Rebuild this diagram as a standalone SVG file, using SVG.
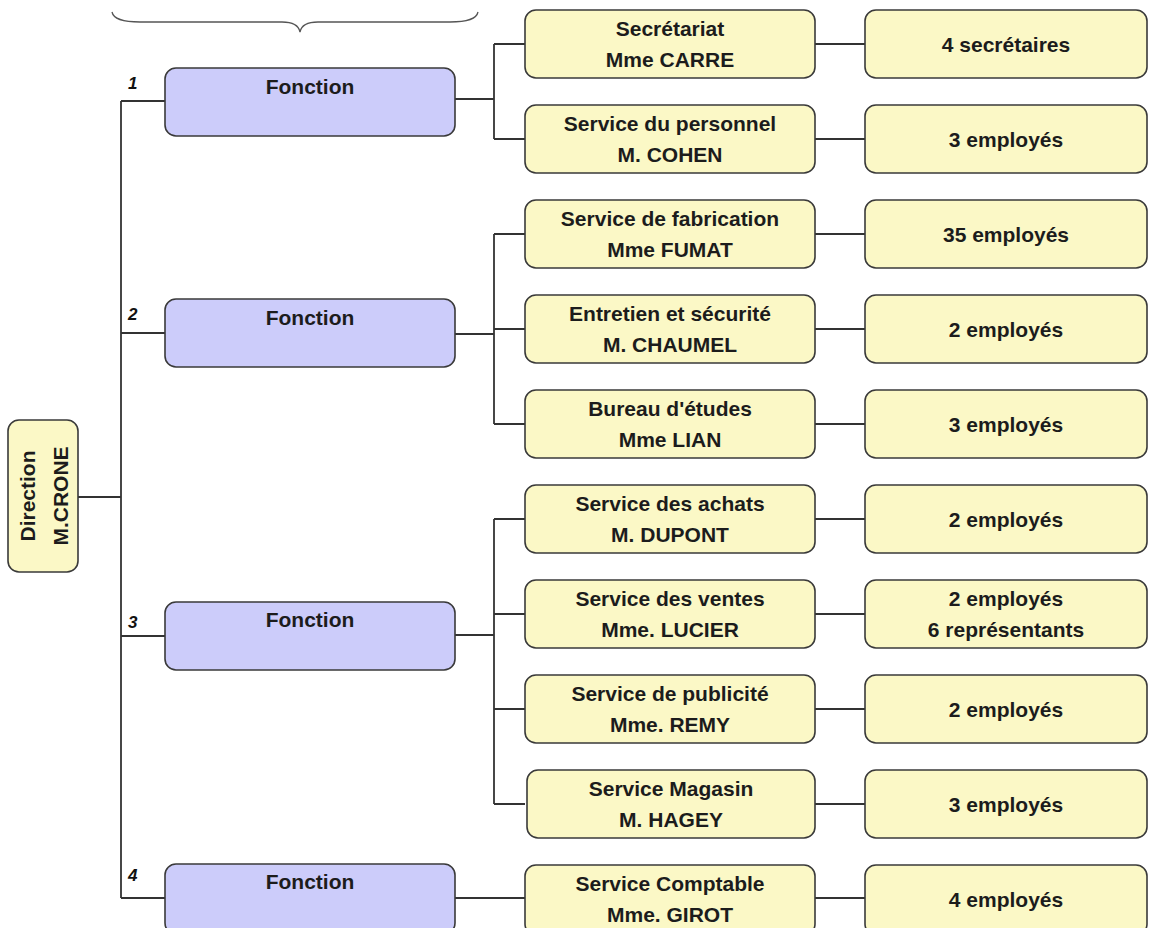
<svg xmlns="http://www.w3.org/2000/svg" width="1149" height="928" viewBox="0 0 1149 928">
<style>
.fn{fill:#ccccfa;stroke:#3a3a3a;stroke-width:1.6}
.sv{fill:#fbf8c6;stroke:#3a3a3a;stroke-width:1.6}
.t{font-family:"Liberation Sans",Arial,sans-serif;font-weight:bold;font-size:21px;fill:#1c1c1c;text-anchor:middle}
.n{font-family:"Liberation Sans",Arial,sans-serif;font-weight:bold;font-style:italic;font-size:17px;fill:#111}
.ln{fill:none;stroke:#333;stroke-width:1.8}
.br{fill:none;stroke:#555;stroke-width:1.3}
</style>
<rect width="1149" height="928" fill="#ffffff"/>
<path class="br" d="M112,12 Q114,22 140,22 L282,22 Q298,22 300,32 Q302,22 318,22 L450,22 Q476,22 478,12"/>
<g id="connectors">
<path class="ln" d="M121,101 V898 M121,101 H165 M121,333 H165 M121,636 H165 M121,898 H165 M78,497 H121"/>
<path class="ln" d="M455,99 H494 M494,44 V139 M494,44 H525 M494,139 H525"/>
<path class="ln" d="M455,334 H494 M494,234 V424 M494,234 H525 M494,329 H525 M494,424 H525"/>
<path class="ln" d="M455,635 H494 M494,519 V804 M494,519 H525 M494,614 H525 M494,709 H525 M494,804 H525"/>
<path class="ln" d="M455,898 H525"/>
<path class="ln" d="M815,44 H865 M815,139 H865 M815,234 H865 M815,329 H865 M815,424 H865 M815,519 H865 M815,614 H865 M815,709 H865 M815,804 H865 M815,898 H865"/>
</g>
<g id="direction">
<rect class="sv" x="8" y="420" width="70" height="152" rx="11"/>
<text class="t" transform="translate(35,496) rotate(-90)">Direction</text>
<text class="t" transform="translate(68,496) rotate(-90)">M.CRONE</text>
</g>
<g id="fonction1"><text class="n" x="128" y="89">1</text><rect class="fn" x="165" y="68" width="290" height="68" rx="11"/><text class="t" x="310" y="94">Fonction</text></g>
<g id="fonction2"><text class="n" x="128" y="320">2</text><rect class="fn" x="165" y="299" width="290" height="68" rx="11"/><text class="t" x="310" y="325">Fonction</text></g>
<g id="fonction3"><text class="n" x="128" y="628">3</text><rect class="fn" x="165" y="602" width="290" height="68" rx="11"/><text class="t" x="310" y="627">Fonction</text></g>
<g id="fonction4"><text class="n" x="128" y="881">4</text><rect class="fn" x="165" y="864" width="290" height="70" rx="11"/><text class="t" x="310" y="889">Fonction</text></g>

<g id="s1"><rect class="sv" x="525" y="10" width="290" height="68" rx="11"/><text class="t" x="670" y="36">Secrétariat</text><text class="t" x="670" y="67">Mme CARRE</text></g>
<g id="s2"><rect class="sv" x="525" y="105" width="290" height="68" rx="11"/><text class="t" x="670" y="131">Service du personnel</text><text class="t" x="670" y="162">M. COHEN</text></g>
<g id="s3"><rect class="sv" x="525" y="200" width="290" height="68" rx="11"/><text class="t" x="670" y="226">Service de fabrication</text><text class="t" x="670" y="257">Mme FUMAT</text></g>
<g id="s4"><rect class="sv" x="525" y="295" width="290" height="68" rx="11"/><text class="t" x="670" y="321">Entretien et sécurité</text><text class="t" x="670" y="352">M. CHAUMEL</text></g>
<g id="s5"><rect class="sv" x="525" y="390" width="290" height="68" rx="11"/><text class="t" x="670" y="416">Bureau d'études</text><text class="t" x="670" y="447">Mme LIAN</text></g>
<g id="s6"><rect class="sv" x="525" y="485" width="290" height="68" rx="11"/><text class="t" x="670" y="511">Service des achats</text><text class="t" x="670" y="542">M. DUPONT</text></g>
<g id="s7"><rect class="sv" x="525" y="580" width="290" height="68" rx="11"/><text class="t" x="670" y="606">Service des ventes</text><text class="t" x="670" y="637">Mme. LUCIER</text></g>
<g id="s8"><rect class="sv" x="525" y="675" width="290" height="68" rx="11"/><text class="t" x="670" y="701">Service de publicité</text><text class="t" x="670" y="732">Mme. REMY</text></g>
<g id="s9"><rect class="sv" x="527" y="770" width="288" height="68" rx="11"/><text class="t" x="671" y="796">Service Magasin</text><text class="t" x="671" y="827">M. HAGEY</text></g>
<g id="s10"><rect class="sv" x="525" y="865" width="290" height="70" rx="11"/><text class="t" x="670" y="891">Service Comptable</text><text class="t" x="670" y="922">Mme. GIROT</text></g>

<g id="r1"><rect class="sv" x="865" y="10" width="282" height="68" rx="11"/><text class="t" x="1006" y="52">4 secrétaires</text></g>
<g id="r2"><rect class="sv" x="865" y="105" width="282" height="68" rx="11"/><text class="t" x="1006" y="147">3 employés</text></g>
<g id="r3"><rect class="sv" x="865" y="200" width="282" height="68" rx="11"/><text class="t" x="1006" y="242">35 employés</text></g>
<g id="r4"><rect class="sv" x="865" y="295" width="282" height="68" rx="11"/><text class="t" x="1006" y="337">2 employés</text></g>
<g id="r5"><rect class="sv" x="865" y="390" width="282" height="68" rx="11"/><text class="t" x="1006" y="432">3 employés</text></g>
<g id="r6"><rect class="sv" x="865" y="485" width="282" height="68" rx="11"/><text class="t" x="1006" y="527">2 employés</text></g>
<g id="r7"><rect class="sv" x="865" y="580" width="282" height="68" rx="11"/><text class="t" x="1006" y="606">2 employés</text><text class="t" x="1006" y="637">6 représentants</text></g>
<g id="r8"><rect class="sv" x="865" y="675" width="282" height="68" rx="11"/><text class="t" x="1006" y="717">2 employés</text></g>
<g id="r9"><rect class="sv" x="865" y="770" width="282" height="68" rx="11"/><text class="t" x="1006" y="812">3 employés</text></g>
<g id="r10"><rect class="sv" x="865" y="865" width="282" height="70" rx="11"/><text class="t" x="1006" y="907">4 employés</text></g>
</svg>
